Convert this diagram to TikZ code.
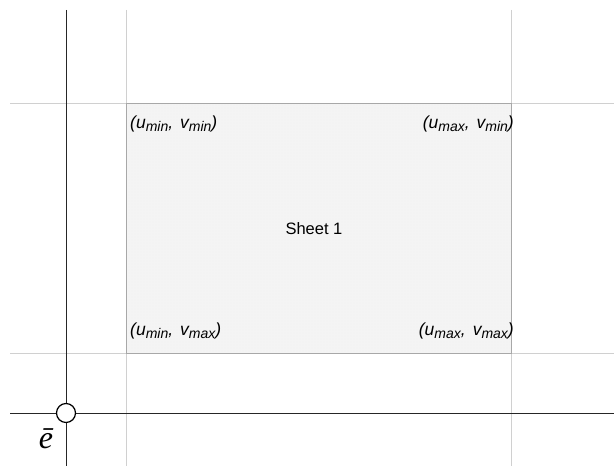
\documentclass[tikz,border=0pt]{standalone}
\usepackage{fontspec}
\setmainfont{Liberation Sans}
\newfontfamily\serifit{Liberation Serif}
\usetikzlibrary{patterns}
\definecolor{gridgrey}{HTML}{D0D0D0}
\definecolor{sheetfill}{HTML}{F4F4F4}
\definecolor{sheetedge}{HTML}{A8A8A8}
\newcommand\lowidx[1]{{\fontsize{14}{15}\selectfont\raisebox{-2.5pt}{#1}}}
\newcommand\uvpair[2]{(u\lowidx{#1},\hspace{7pt}v\lowidx{#2})}
\tikzset{
  gridline/.style={gridgrey,line width=0.8pt},
  axisline/.style={black!85,line width=1pt},
  cornerlabel/.style={font=\fontsize{17.5}{19}\selectfont\itshape,inner sep=0pt},
}
\begin{document}
\begin{tikzpicture}[x=1pt,y=-1pt]
  \useasboundingbox (0,0) rectangle (614,468);
  % grid
  \foreach \x in {126,511}{
    \draw[gridline] (\x,10) -- (\x,466);
  }
  \foreach \y in {103,353}{
    \draw[gridline] (10,\y) -- (614,\y);
  }
  % sheet
  \fill[sheetfill] (126,103) rectangle (511,353);
  \fill[pattern=dots,pattern color=black!6] (126,103) rectangle (511,353);
  \draw[sheetedge,line width=0.8pt] (126,103) rectangle (511,353);
  % axes
  \draw[axisline] (66,10) -- (66,466);
  \draw[axisline] (10,413) -- (614,413);
  \node[circle,draw,fill=white,line width=1.2pt,minimum size=19pt,inner sep=0pt] (origin) at (66,413) {};
  \node[inner sep=0pt,anchor=base,font=\serifit\itshape\fontsize{32}{34}\selectfont] (ebar) at (46,448) {ē};
  % labels
  \node[cornerlabel,anchor=west] (tl) at (130,124) {\uvpair{min}{min}};
  \node[cornerlabel,anchor=east] (tr) at (514,124) {\uvpair{max}{min}};
  \node[cornerlabel,anchor=west] (bl) at (130,331) {\uvpair{min}{max}};
  \node[cornerlabel,anchor=east] (br) at (514,331) {\uvpair{max}{max}};
  \node[font=\fontsize{16.5}{18}\selectfont] (sheet) at (314,229) {Sheet 1};
\end{tikzpicture}
\end{document}
